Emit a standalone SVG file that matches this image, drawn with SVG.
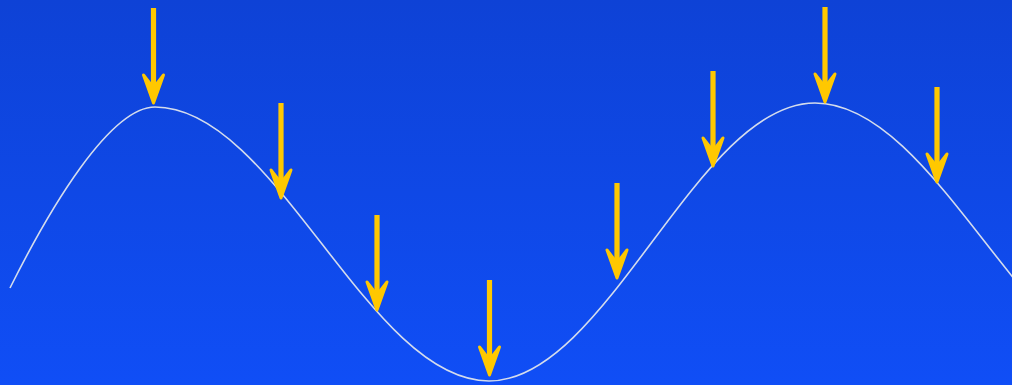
<svg xmlns="http://www.w3.org/2000/svg" xmlns:xlink="http://www.w3.org/1999/xlink" width="1012" height="385" viewBox="0 0 1012 385">
  <defs>
    <linearGradient id="bg" x1="0" y1="0" x2="0" y2="1">
      <stop offset="0" stop-color="#0E42D6"/>
      <stop offset="1" stop-color="#104EF6"/>
    </linearGradient>
    <g id="arrow">
      <rect x="-2.6" y="-97" width="5.2" height="82" fill="#FFC800"/>
      <polygon points="-10,-30 0,-2 10,-30 0,-17" fill="#FFC800" stroke="#FFC800" stroke-width="3" stroke-linejoin="round"/>
    </g>
  </defs>
  <style>
    .wave { fill: none; stroke: #D4DCEC; stroke-width: 1.6; }
  </style>
  <rect width="1012" height="385" fill="url(#bg)"/>
  <g id="connectors">
    <path class="wave" d="M10,288 C50,208 110,107 155,107 C276,107 368,381 489,381 C607,381 697,103 815,103 C938,103 1032,381 1155,381"/>
  </g>
  <g id="arrow1"><use xlink:href="#arrow" transform="translate(153.5,105)"/></g>
  <g id="arrow2"><use xlink:href="#arrow" transform="translate(281,200)"/></g>
  <g id="arrow3"><use xlink:href="#arrow" transform="translate(377,312)"/></g>
  <g id="arrow4"><use xlink:href="#arrow" transform="translate(489.5,377)"/></g>
  <g id="arrow5"><use xlink:href="#arrow" transform="translate(617,280)"/></g>
  <g id="arrow6"><use xlink:href="#arrow" transform="translate(713,168)"/></g>
  <g id="arrow7"><use xlink:href="#arrow" transform="translate(825,104)"/></g>
  <g id="arrow8"><use xlink:href="#arrow" transform="translate(937,184)"/></g>
</svg>
